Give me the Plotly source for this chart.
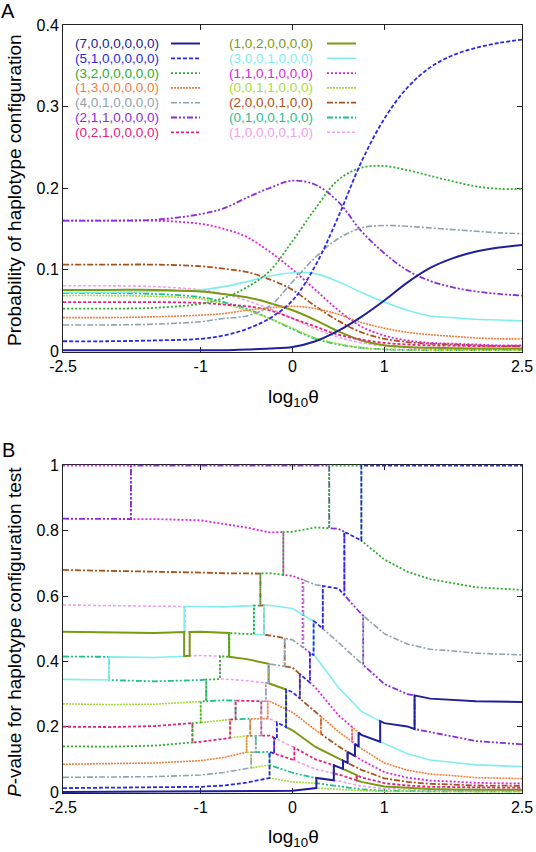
import plotly.graph_objects as go

W, H = 536, 852


def px(x):
    return x / W


def py(y):
    return 1 - y / H


# ---------------- series metadata ----------------
labels = ["(7,0,0,0,0,0,0)", "(5,1,0,0,0,0,0)", "(3,2,0,0,0,0,0)", "(1,3,0,0,0,0,0)",
          "(4,0,1,0,0,0,0)", "(2,1,1,0,0,0,0)", "(0,2,1,0,0,0,0)",
          "(1,0,2,0,0,0,0)", "(3,0,0,1,0,0,0)", "(1,1,0,1,0,0,0)", "(0,0,1,1,0,0,0)",
          "(2,0,0,0,1,0,0)", "(0,1,0,0,1,0,0)", "(1,0,0,0,0,1,0)"]
colors = ["#20209a", "#2a2ae6", "#2eae2e", "#ef7f3f", "#8fa3ad", "#8b2be0", "#e6207f",
          "#7a9a12", "#80eeee", "#dd22dd", "#a6dc3c", "#a9531c", "#1fbf8f", "#efa0ef"]
dashes = ["solid", "4px,2px", "2px,2px", "2px,1px", "6px,2px,2px,2px",
          "6px,2px,2px,2px,2px,2px", "3px,2px",
          "solid", "solid", "2px,2px", "2px,1px", "6px,2px,2px,2px",
          "6px,2px,2px,2px,2px,2px", "3px,2px"]
widths = [2, 1.8, 1.8, 1.6, 1.6, 1.8, 1.8, 2, 1.6, 1.8, 1.6, 1.8, 1.8, 1.6]

# ---------------- panel A data ----------------
A_X = [-2.5, -2, -1.5, -1, -0.75, -0.5, -0.25, 0, 0.25, 0.5, 0.75, 1, 1.25, 1.5, 1.75, 2, 2.25, 2.5]
A_N = [.001, .001, .001, .001, .001, .002, .003, .005, .012, .025, .042, .062, .084, .102, .114, .122, .127, .130]
A_B = [.012, .012, .013, .015, .019, .027, .040, .062, .105, .165, .232, .285, .323, .348, .363, .372, .378, .382]
A_G = [.052, .052, .053, .058, .065, .078, .098, .135, .175, .210, .225, .227, .222, .215, .208, .202, .199, .199]
A_Or = [.041, .041, .042, .044, .046, .050, .053, .055, .052, .045, .035, .028, .023, .020, .018, .016, .015, .015]
A_Gr = [.032, .032, .033, .036, .040, .043, .055, .085, .115, .138, .151, .154, .153, .151, .149, .147, .145, .144]
A_P = [.160, .160, .161, .168, .175, .188, .200, .209, .204, .183, .147, .120, .099, .086, .078, .073, .070, .068]
A_PM = [.060, .060, .060, .059, .057, .055, .050, .040, .030, .020, .014, .010, .008, .007, .0065, .006, .006, .006]
A_Ol = [.075, .075, .075, .073, .070, .066, .059, .050, .038, .024, .013, .007, .005, .004, .0035, .003, .003, .003]
A_Cy = [.072, .072, .073, .075, .079, .085, .092, .096, .095, .085, .072, .060, .050, .043, .041, .039, .038, .037]
A_M = [.160, .160, .160, .156, .150, .140, .122, .100, .075, .050, .030, .019, .013, .010, .009, .008, .007, .007]
A_YG = [.068, .068, .067, .064, .058, .050, .040, .028, .016, .009, .004, .002, .0015, .001, .001, .001, .001, .001]
A_Br = [.106, .106, .106, .104, .101, .097, .088, .075, .055, .037, .023, .015, .011, .009, .008, .007, .006, .006]
A_Te = [.071, .071, .070, .066, .060, .052, .040, .027, .015, .008, .004, .002, .0015, .001, .001, .001, .001, .001]
A_LP = [.080, .080, .079, .075, .070, .062, .052, .040, .027, .017, .010, .006, .004, .003, .0025, .002, .002, .002]

# ---------------- panel B data (step paths) ----------------
B_N_X = [-2.5, -1.0, -0.5, -0.25, 0, 0.26, 0.26, 0.45, 0.45, 0.55, 0.55, 0.6, 0.6, 0.68, 0.68, 0.72, 0.72, 0.75,
         0.955, 0.955, 1.0, 1.25, 1.33, 1.33, 1.5, 1.75, 2.0, 2.5]
B_N_Y = [0.0, 0.001, 0.002, 0.003, 0.004, 0.012, 0.043, 0.036, 0.082, 0.071, 0.096, 0.089, 0.123, 0.110, 0.148,
         0.139, 0.182, 0.175, 0.154, 0.217, 0.211, 0.201, 0.193, 0.296, 0.286, 0.283, 0.278, 0.276]
B_B_X = [-2.5, -2.0, -1.5, -1.0, -0.75, -0.5, -0.25, -0.25, -0.2, -0.2, -0.17, -0.17, -0.07, -0.07, 0, 0.08, 0.08,
         0.19, 0.19, 0.23, 0.23, 0.25, 0.33, 0.33, 0.5, 0.565, 0.565, 0.75, 0.75, 2.5]
B_B_Y = [.012, .013, .014, .016, .020, .029, .043, .123, .118, .166, .162, .213, .199, .314, .306, .286, .361,
         .335, .427, .419, .523, .520, .500, .631, .623, .603, .797, .770, 1.0, 1.0]
B_G_X = [-2.5, -2.0, -1.5, -1.09, -1.09, -1.0, -1.0, -0.94, -0.94, -0.79, -0.79, -0.75, -0.69, -0.69, -0.5, -0.42,
         -0.42, -0.35, -0.35, -0.25, -0.1, -0.1, 0, 0.25, 0.40, 0.40, 0.75, 0.75, 1.0, 1.25, 1.5, 1.75, 2.0, 2.5]
B_G_Y = [.140, .139, .142, .152, .211, .213, .277, .278, .344, .346, .416, .416, .414, .487, .485, .483, .571,
         .571, .669, .670, .665, .796, .797, .810, .808, 1.0, 1.0, .770, .712, .675, .652, .640, .627, .619]
B_Or_X = [-2.5, -2.0, -1.5, -1.0, -0.75, -0.5, -0.5, -0.46, -0.46, -0.27, -0.27, -0.25, 0, 0.25, 0.31, 0.31, 0.5,
          0.65, 0.65, 0.72, 0.72, 0.75, 1.0, 1.25, 1.5, 1.75, 2.0, 2.5]
B_Or_Y = [.085, .086, .089, .096, .106, .122, .172, .172, .224, .225, .278, .278, .244, .190, .178, .231, .185,
          .154, .199, .182, .139, .133, .089, .067, .055, .050, .044, .041]
B_Gr_X = [-2.5, -2.0, -1.5, -1.0, -0.75, -0.5, -0.45, -0.45, -0.40, -0.40, -0.34, -0.34, -0.29, -0.29, -0.26,
          -0.26, -0.25, -0.085, -0.085, 0, 0.12, 0.12, 0.25, 0.33, 0.33, 0.5, 0.75, 0.77, 0.77, 1.0, 1.25, 1.5,
          1.75, 2.0, 2.5]
B_Gr_Y = [.045, .045, .047, .052, .060, .072, .074, .122, .122, .172, .173, .278, .278, .334, .333, .393, .392,
          .385, .471, .466, .442, .649, .635, .631, .500, .458, .394, .389, .540, .485, .453, .437, .432, .425, .420]
B_P_X = [-2.5, -2.0, -1.76, -1.76, 0.40, 0.40, 0.5, 0.565, 0.565, 0.75, 0.77, 0.77, 1.0, 1.25, 1.33, 1.33, 1.5,
         1.75, 2.0, 2.5]
B_P_Y = [.837, .837, .836, 1.0, 1.0, .808, .806, .797, .603, .545, .540, .389, .331, .300, .296, .193, .184,
         .169, .156, .146]
B_PM_X = [-2.5, -2.0, -1.5, -1.09, -1.09, -1.0, -0.75, -0.68, -0.68, -0.62, -0.62, -0.5, -0.34, -0.34, -0.25,
          -0.2, -0.2, 0, 0.02, 0.02, 0.25, 0.45, 0.45, 0.5, 0.7, 0.7, 0.75, 1.0, 1.25, 1.5, 1.75, 2.0, 2.5]
B_PM_Y = [.200, .199, .202, .211, .152, .154, .163, .166, .222, .223, .280, .279, .278, .173, .173, .166, .118,
          .099, .097, .136, .100, .082, .057, .054, .036, .052, .045, .027, .020, .016, .015, .013, .013]
B_Ol_X = [-2.5, -2.0, -1.5, -1.18, -1.18, -1.12, -1.12, -1.0, -0.75, -0.69, -0.69, -0.5, -0.26, -0.26, -0.07,
          -0.07, 0, 0.25, 0.5, 0.55, 0.55, 0.7, 0.7, 0.75, 1.0, 1.25, 1.5, 1.75, 2.0, 2.5]
B_Ol_Y = [.491, .489, .487, .490, .416, .417, .490, .491, .487, .487, .414, .407, .393, .333, .314, .199, .189,
          .138, .103, .096, .071, .052, .036, .031, .017, .012, .009, .008, .007, .007]
B_Cy_X = [-2.5, -2.0, -2.0, -1.5, -1.18, -1.18, -1.0, -0.75, -0.5, -0.42, -0.42, -0.31, -0.31, -0.25, 0, 0.23,
          0.23, 0.25, 0.5, 0.75, 0.955, 0.955, 1.0, 1.25, 1.5, 1.75, 2.0, 2.5]
B_Cy_Y = [.345, .343, .414, .412, .416, .568, .568, .567, .570, .571, .483, .481, .572, .572, .562, .523, .419,
          .415, .320, .247, .217, .154, .149, .117, .098, .091, .083, .078]
B_M_X = [-2.5, -1.76, -1.76, -1.5, -1.0, -0.75, -0.5, -0.25, -0.1, -0.1, 0, 0.11, 0.11, 0.19, 0.19, 0.25, 0.5,
         0.65, 0.65, 0.68, 0.68, 0.75, 1.0, 1.25, 1.5, 1.75, 2.0, 2.5]
B_M_Y = [1.0, 1.0, .836, .836, .832, .822, .810, .795, .796, .665, .662, .650, .444, .427, .335, .320, .235,
         .199, .154, .148, .110, .098, .061, .044, .035, .032, .028, .026]
B_YG_X = [-2.5, -2.0, -1.5, -1.0, -1.0, -0.75, -0.68, -0.68, -0.5, -0.5, -0.45, -0.45, -0.25, -0.25, 0, 0.25,
          0.26, 0.26, 0.5, 0.75, 1.0, 1.5, 2.5]
B_YG_Y = [.270, .268, .269, .277, .213, .221, .222, .166, .172, .122, .122, .074, .083, .043, .031, .027, .027,
          .012, .008, .004, .002, .001, .001]
B_Br_X = [-2.5, -2.0, -1.5, -1.0, -0.75, -0.5, -0.35, -0.35, -0.31, -0.31, -0.25, -0.085, -0.085, 0, 0.08, 0.08,
          0.25, 0.31, 0.31, 0.5, 0.6, 0.6, 0.75, 1.0, 1.25, 1.5, 1.75, 2.0, 2.5]
B_Br_Y = [.680, .678, .675, .672, .670, .668, .669, .571, .572, .481, .480, .471, .385, .381, .361, .286, .245,
          .231, .178, .140, .123, .089, .068, .042, .031, .025, .023, .020, .019]
B_Te_X = [-2.5, -2.0, -2.0, -1.5, -1.0, -0.94, -0.94, -0.75, -0.62, -0.62, -0.5, -0.46, -0.46, -0.40, -0.40,
          -0.25, -0.25, 0, 0.25, 0.26, 0.26, 0.5, 0.75, 1.0, 1.5, 2.5]
B_Te_Y = [.415, .414, .343, .339, .343, .344, .278, .281, .280, .223, .224, .224, .172, .172, .122, .123, .083,
          .059, .043, .043, .027, .017, .008, .004, .002, .002]
B_LP_X = [-2.5, -2.0, -1.5, -1.17, -1.17, -1.12, -1.12, -1.0, -0.79, -0.79, -0.75, -0.5, -0.29, -0.29, -0.27,
          -0.27, -0.25, -0.17, -0.17, 0, 0.02, 0.02, 0.25, 0.45, 0.45, 0.5, 0.75, 1.0, 1.5, 2.0, 2.5]
B_LP_Y = [.573, .572, .569, .568, .490, .490, .417, .418, .416, .346, .346, .341, .334, .278, .278, .225, .225,
          .213, .162, .139, .136, .097, .070, .057, .036, .034, .018, .010, .005, .004, .004]

A_series = [A_N, A_B, A_G, A_Or, A_Gr, A_P, A_PM, A_Ol, A_Cy, A_M, A_YG, A_Br, A_Te, A_LP]
B_series = [(B_N_X, B_N_Y), (B_B_X, B_B_Y), (B_G_X, B_G_Y), (B_Or_X, B_Or_Y), (B_Gr_X, B_Gr_Y),
            (B_P_X, B_P_Y), (B_PM_X, B_PM_Y), (B_Ol_X, B_Ol_Y), (B_Cy_X, B_Cy_Y), (B_M_X, B_M_Y),
            (B_YG_X, B_YG_Y), (B_Br_X, B_Br_Y), (B_Te_X, B_Te_Y), (B_LP_X, B_LP_Y)]

x_ticks = [-2.5, -1, 0, 1, 2.5]
x_ticktext = ["-2.5", "-1", "0", "1", "2.5"]
yA_ticks = [0, 0.1, 0.2, 0.3, 0.4]
yA_ticktext = ["0", "0.1", "0.2", "0.3", "0.4"]
yB_ticks = [0, 0.2, 0.4, 0.6, 0.8, 1]
yB_ticktext = ["0", "0.2", "0.4", "0.6", "0.8", "1"]

FONT = "Liberation Sans, Arial, Helvetica, sans-serif"

fig = go.Figure()

order = list(range(14))[::-1]
for i in order:
    fig.add_trace(go.Scatter(x=A_X, y=A_series[i], mode="lines", xaxis="x", yaxis="y",
                             line=dict(color=colors[i], dash=dashes[i], width=widths[i],
                                       shape="spline", smoothing=1.0),
                             showlegend=False, hoverinfo="skip"))
for i in order:
    bx, by = B_series[i]
    fig.add_trace(go.Scatter(x=bx, y=by, mode="lines", xaxis="x2", yaxis="y2",
                             line=dict(color=colors[i], dash=dashes[i], width=widths[i]),
                             showlegend=False, hoverinfo="skip"))

xdom = [px(63), px(522)]
axis_common = dict(ticks="inside", ticklen=5, tickcolor="#222", tickwidth=1,
                   showline=True, linecolor="#222", linewidth=1, mirror="ticks",
                   showgrid=False, zeroline=False, layer="below traces", automargin=False,
                   ticklabeloverflow="allow",
                   tickfont=dict(family=FONT, size=16, color="black"))

fig.update_layout(
    width=W, height=H, autosize=False,
    margin=dict(l=0, r=0, t=0, b=0, pad=0, autoexpand=False),
    paper_bgcolor="white", plot_bgcolor="white",
    font=dict(family=FONT, color="black"),
    showlegend=False,
    xaxis=dict(domain=xdom, anchor="y", range=[-2.5, 2.5], tickvals=x_ticks, ticktext=x_ticktext,
               **axis_common),
    yaxis=dict(domain=[py(352), py(25)], anchor="x", range=[-0.0012, 0.4], tickvals=yA_ticks,
               ticktext=yA_ticktext, **axis_common),
    xaxis2=dict(domain=xdom, anchor="y2", range=[-2.5, 2.5], tickvals=x_ticks, ticktext=x_ticktext,
                **axis_common),
    yaxis2=dict(domain=[py(793), py(464.5)], anchor="x2", range=[-0.003, 1.003], tickvals=yB_ticks,
                ticktext=yB_ticktext, **axis_common),
)

ann = []
shapes = []
col_text_x = [73.5, 228]
col_line_x = [(171, 200), (327, 356)]
for i in range(14):
    col, row = divmod(i, 7)
    yc = 43.5 + 14.8 * row
    ann.append(dict(x=px(col_text_x[col]), y=py(yc), xref="paper", yref="paper", text=labels[i],
                    showarrow=False, xanchor="left", yanchor="middle", borderpad=0,
                    font=dict(family=FONT, size=13.5, color=colors[i])))
    x0, x1 = col_line_x[col]
    shapes.append(dict(type="line", xref="paper", yref="paper", x0=px(x0), x1=px(x1), y0=py(yc), y1=py(yc),
                       line=dict(color=colors[i], dash=dashes[i], width=widths[i])))

ann.append(dict(x=px(293), y=py(398), xref="paper", yref="paper", text="log<sub>10</sub>θ",
                showarrow=False, xanchor="center", yanchor="middle", font=dict(family=FONT, size=19)))
ann.append(dict(x=px(293), y=py(838), xref="paper", yref="paper", text="log<sub>10</sub>θ",
                showarrow=False, xanchor="center", yanchor="middle", font=dict(family=FONT, size=19)))
ann.append(dict(x=px(14), y=py(190), xref="paper", yref="paper", text="Probability of haplotype configuration",
                showarrow=False, textangle=-90, xanchor="center", yanchor="middle",
                font=dict(family=FONT, size=19)))
ann.append(dict(x=px(14), y=py(632), xref="paper", yref="paper",
                text="<i>P</i>-value for haplotype configuration test",
                showarrow=False, textangle=-90, xanchor="center", yanchor="middle",
                font=dict(family=FONT, size=19)))
ann.append(dict(x=px(8), y=py(11), xref="paper", yref="paper", text="A", showarrow=False,
                xanchor="center", yanchor="middle", font=dict(family=FONT, size=20)))
ann.append(dict(x=px(8), y=py(450), xref="paper", yref="paper", text="B", showarrow=False,
                xanchor="center", yanchor="middle", font=dict(family=FONT, size=20)))

fig.update_layout(annotations=ann, shapes=shapes)

fig.write_html("out.html", config={"displayModeBar": False, "staticPlot": True},
               post_script="document.body.style.margin='0';document.body.style.overflow='hidden';")
